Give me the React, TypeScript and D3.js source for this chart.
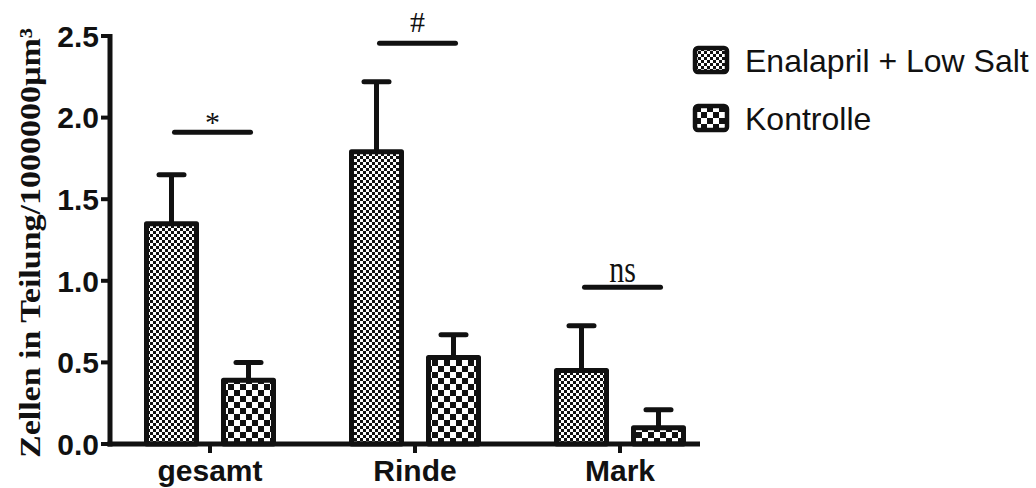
import React from "react";
import * as d3 from "d3";

// Regions of the kidney that were counted
const categories = ["gesamt", "Rinde", "Mark"];
// Group names shown in the legend
const seriesNames = ["Enalapril + Low Salt", "Kontrolle"];
// Mean dividing cells per 1000000 µm³
const enalaprilMeans = [1.35, 1.79, 0.45];
const kontrolleMeans = [0.39, 0.53, 0.1];
// Upper end of the error bars (mean + SEM)
const enalaprilUpper = [1.65, 2.22, 0.725];
const kontrolleUpper = [0.5, 0.67, 0.21];
// Significance annotations per region: label and the height of the bracket
const sigLabels = ["*", "#", "ns"];
const sigLevels = [1.91, 2.455, 0.96];
// Y axis ticks
const yTicks = [0, 0.5, 1.0, 1.5, 2.0, 2.5];

const W = 1036;
const H = 488;

export default function App() {
  const y = d3.scaleLinear().domain([0, 2.5]).range([444, 36]);
  const x = d3.scalePoint<string>().domain(categories).range([210, 620]);
  const offset = 38.5;
  const barW = 50;
  const axisX = 110;
  const axisEnd = 700;
  const lw = 5;

  const series = [
    { name: seriesNames[0], means: enalaprilMeans, upper: enalaprilUpper, fill: "url(#fine)", dx: -offset },
    { name: seriesNames[1], means: kontrolleMeans, upper: kontrolleUpper, fill: "url(#coarse)", dx: offset },
  ];

  const labelDy: Record<string, number> = { "*": 0, "#": -11, ns: -5 };
  const labelStretch: Record<string, number> = { "*": 1, "#": 1, ns: 1.25 };

  return (
    <svg width={W} height={H} style={{ position: "absolute", left: 0, top: 0, background: "#fff" }}>
      <defs>
        <pattern id="fine" width="6" height="6" patternUnits="userSpaceOnUse">
          <rect width="6" height="6" fill="#fff" />
          <rect width="3" height="3" fill="#111" />
          <rect x="3" y="3" width="3" height="3" fill="#111" />
        </pattern>
        <pattern id="coarse" width="12" height="12" patternUnits="userSpaceOnUse">
          <rect width="12" height="12" fill="#fff" />
          <rect width="6" height="6" fill="#111" />
          <rect x="6" y="6" width="6" height="6" fill="#111" />
        </pattern>
      </defs>

      {/* bars with error bars */}
      {series.map((s) =>
        categories.map((c, i) => {
          const cx = (x(c) as number) + s.dx;
          const top = y(s.means[i]);
          const base = y(0);
          const eTop = y(s.upper[i]);
          return (
            <g key={s.name + c}>
              <line x1={cx} x2={cx} y1={top} y2={eTop} stroke="#111" strokeWidth={lw} />
              <line x1={cx - 12.5} x2={cx + 12.5} y1={eTop} y2={eTop} stroke="#111" strokeWidth={lw} strokeLinecap="round" />
              <rect
                x={cx - barW / 2}
                y={top}
                width={barW}
                height={base - top}
                fill={s.fill}
                stroke="#111"
                strokeWidth={lw}
                strokeLinejoin="round"
              />
            </g>
          );
        })
      )}

      {/* significance brackets */}
      {categories.map((c, i) => {
        const x1 = (x(c) as number) - offset + 3;
        const x2 = (x(c) as number) + offset + 2;
        const ly = y(sigLevels[i]);
        const lab = sigLabels[i];
        return (
          <g key={"sig" + c}>
            <line x1={x1} x2={x2} y1={ly} y2={ly} stroke="#111" strokeWidth={lw} strokeLinecap="round" />
            <text
              transform={`translate(${(x1 + x2) / 2}, ${ly + labelDy[lab]}) scale(1, ${labelStretch[lab]})`}
              textAnchor="middle"
              fontFamily="'Liberation Serif', 'Times New Roman', serif"
              fontSize={30}
              fill="#111"
            >
              {lab}
            </text>
          </g>
        );
      })}

      {/* y axis */}
      <line x1={axisX} x2={axisX} y1={y(2.5) - 2} y2={y(0) + 2.5} stroke="#111" strokeWidth={lw} />
      {yTicks.map((t) => (
        <g key={"yt" + t}>
          <line x1={axisX - 9} x2={axisX} y1={y(t)} y2={y(t)} stroke="#111" strokeWidth={4} />
          <text
            x={axisX - 11}
            y={y(t)}
            dy="0.36em"
            textAnchor="end"
            fontFamily="'Liberation Sans', Arial, sans-serif"
            fontWeight="bold"
            fontSize={30}
            fill="#111"
          >
            {d3.format(".1f")(t)}
          </text>
        </g>
      ))}

      {/* x axis */}
      <line x1={axisX - 2.5} x2={axisEnd} y1={y(0)} y2={y(0)} stroke="#111" strokeWidth={lw} />
      {categories.map((c) => (
        <g key={"xt" + c}>
          <line x1={x(c)} x2={x(c)} y1={y(0)} y2={y(0) + 9} stroke="#111" strokeWidth={4} />
          <text
            x={x(c)}
            y={481}
            textAnchor="middle"
            fontFamily="'Liberation Sans', Arial, sans-serif"
            fontWeight="bold"
            fontSize={30}
            fill="#111"
          >
            {c}
          </text>
        </g>
      ))}

      {/* y axis title */}
      <text
        transform={`translate(40, 243) rotate(-90)`}
        textAnchor="middle"
        fontFamily="'Liberation Serif', 'Times New Roman', serif"
        fontWeight="bold"
        fontSize={30}
        textLength={430}
        lengthAdjust="spacingAndGlyphs"
        fill="#111"
      >
        Zellen in Teilung/1000000µm³
      </text>

      {/* legend */}
      {series.map((s, i) => (
        <g key={"lg" + s.name} transform={`translate(695, ${48 + i * 58})`}>
          <rect width={32} height={24} rx={3} fill={s.fill} stroke="#111" strokeWidth={4.5} />
          <text
            x={50}
            y={12}
            dy="0.36em"
            fontFamily="'Liberation Sans', Arial, sans-serif"
            fontSize={32}
            fill="#111"
          >
            {s.name}
          </text>
        </g>
      ))}
    </svg>
  );
}
